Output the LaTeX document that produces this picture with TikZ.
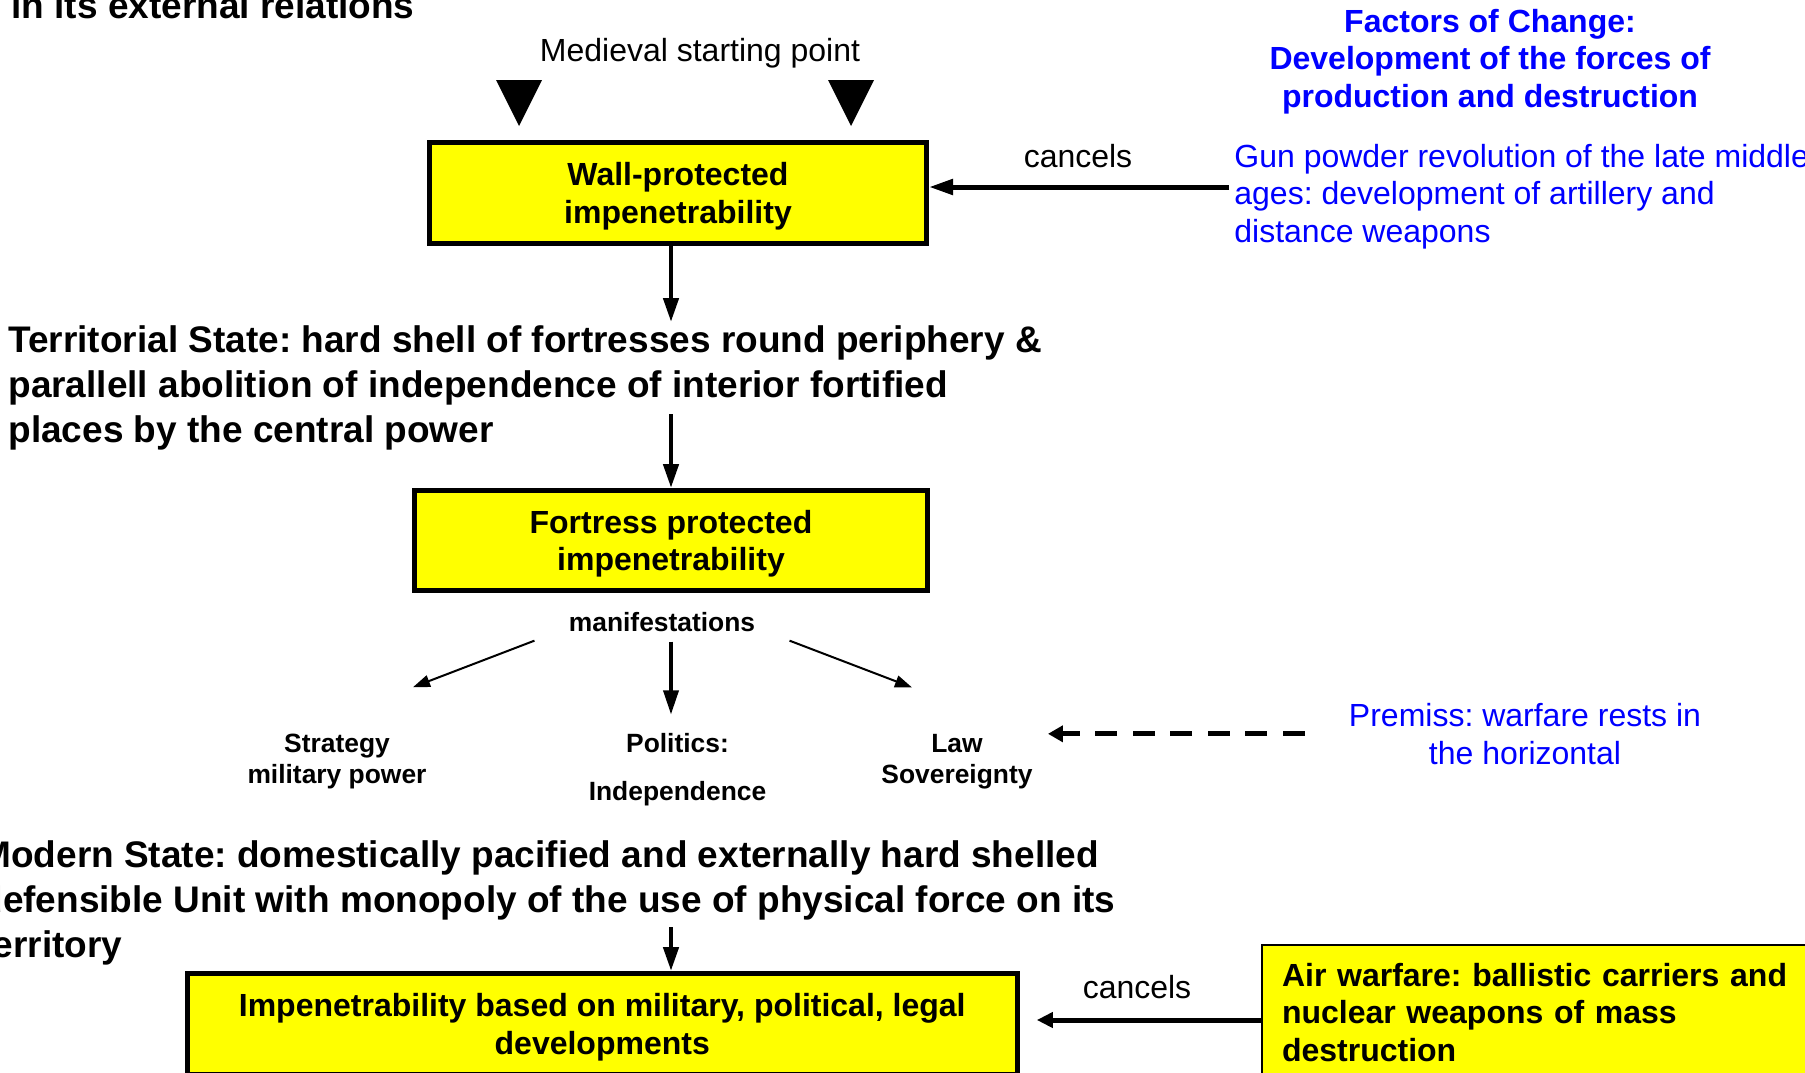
\documentclass[tikz,border=0pt]{standalone}
\usepackage{fontspec}
\setmainfont{Liberation Sans}
\usetikzlibrary{arrows.meta}
\definecolor{signyellow}{RGB}{255,255,0}
\definecolor{factorblue}{RGB}{0,0,255}
\frenchspacing

\begin{document}
\begin{tikzpicture}[x=0.5pt,y=-0.5pt,
  yellowbox/.style={draw, line width=2.5pt, fill=signyellow, inner sep=0pt, align=center,
    text depth=0pt, font=\fontsize{16pt}{18.75pt}\selectfont\bfseries},
  bigtext/.style={anchor=base west, inner sep=0pt, align=left,
    font=\fontsize{18.5pt}{22.4pt}\selectfont\bfseries},
  plaintext/.style={inner sep=0pt, font=\fontsize{16pt}{18.75pt}\selectfont},
  bluetext/.style={plaintext, text=factorblue},
  smalllabel/.style={anchor=base, inner sep=0pt, align=center,
    font=\fontsize{13.2pt}{15.5pt}\selectfont\bfseries},
  flowarrow/.style={line width=2.25pt, -{Triangle[length=12pt,width=7.5pt]}},
  cancelarrow/.style={line width=2.5pt, -{Triangle[length=12pt,width=7.5pt]}},
  thinarrow/.style={line width=1pt, -{Triangle[length=8.5pt,width=6pt]}},
  dasharrow/.style={line width=2.5pt, dash pattern=on 10.85pt off 7.9pt,
    -{Triangle[length=7.5pt,width=8pt]}}]
\useasboundingbox (0,0) rectangle (1805,1072);

% left column (multi-line texts sit on their last baseline)
\node[bigtext] (extrel) at (11,18) {in its external relations};
\node[plaintext, anchor=base] (medieval) at (700,61) {Medieval starting point};
\fill (496,80) -- (542,80) -- (519,126) -- cycle;
\fill (828,80) -- (874,80) -- (851,126) -- cycle;
\node[yellowbox, minimum width=248.5pt, minimum height=50.5pt] (wallbox) at (678,193) {Wall-protected\\impenetrability};
\node[bigtext] (territorial) at (8,442) {Territorial State: hard shell of fortresses round periphery \&\\parallell abolition of independence of interior fortified\\places by the central power};
\node[yellowbox, minimum width=256.5pt, minimum height=50pt] (fortbox) at (671,540.5) {Fortress protected\\impenetrability};
\node[smalllabel] (manif) at (662,631) {manifestations};
\node[smalllabel] (strategy) at (337,783) {Strategy\\military power};
\node[smalllabel] (politics) at (677.5,800) {Politics:\\[8.5pt]Independence};
\node[smalllabel] (law) at (957,783) {Law\\Sovereignty};
\node[bigtext] (modern) at (-20,957) {Modern State: domestically pacified and externally hard shelled\\defensible Unit with monopoly of the use of physical force on its\\territory};
\node[yellowbox, minimum width=415.25pt, minimum height=50.5pt] (impenbox) at (602.25,1024) {Impenetrability based on military, political, legal\\developments};

% factors of change
\node[bluetext, anchor=base, align=center, font=\fontsize{16pt}{18.75pt}\selectfont\bfseries] (factors) at (1490,107) {Factors of Change:\\Development of the forces of\\production and destruction};
\node[bluetext, anchor=base west, align=left] (gunpowder) at (1234,242) {Gun powder revolution of the late middle\\ages: development of artillery and\\distance weapons};
\node[plaintext, anchor=base] (cancelsa) at (1078,167) {cancels};
\node[bluetext, anchor=base, align=center] (premiss) at (1525,764) {Premiss: warfare rests in\\the horizontal};
\node[draw, line width=1pt, fill=signyellow, anchor=north west, align=left, text width=270pt,
  inner xsep=10pt, inner ysep=0pt, minimum height=67.5pt,
  font=\fontsize{16pt}{18.75pt}\selectfont\bfseries] (airbox) at (1261,944) {Air warfare: ballistic carriers and\\nuclear weapons of mass\\destruction};
\node[plaintext, anchor=base] (cancelsb) at (1137,998) {cancels};

% connectors
\coordinate (gunout) at (1229,187);
\draw[cancelarrow] (gunout) -- (wallbox.east |- gunout);
\coordinate (terrin) at (671,322);
\draw[flowarrow] (wallbox.south -| fortbox.north) -- (terrin);
\coordinate (terrout) at (671,414);
\draw[flowarrow] (terrout) -- (fortbox.north);
\draw[thinarrow] ([shift={(-34,9)}]manif.south west) -- ([shift={(76,-46)}]strategy.north);
\draw[flowarrow, line width=1.75pt] ([shift={(9,10)}]manif.south) -- ([shift={(-6.5,-18)}]politics.north);
\draw[thinarrow] ([shift={(34,9)}]manif.south east) -- ([shift={(-45,-46)}]law.north);
\draw[dasharrow] ([xshift=-22pt]premiss.west) -- ([xshift=7.5pt]law.east |- premiss.west);
\coordinate (modout) at (671,927);
\draw[flowarrow] (modout) -- (modout |- impenbox.north);
\draw[cancelarrow, -{Triangle[length=8pt,width=7.5pt]}] ([yshift=-3.75pt]airbox.west) coordinate (airout) -- ([xshift=8.4pt]impenbox.east |- airout);

\end{tikzpicture}
\end{document}
